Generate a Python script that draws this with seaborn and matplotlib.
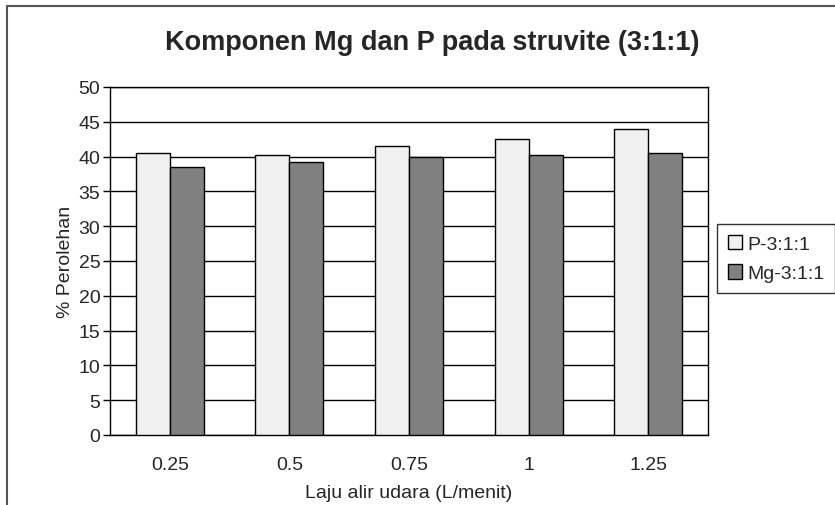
import matplotlib
matplotlib.use("Agg")
import matplotlib.pyplot as plt
import seaborn as sns
import pandas as pd
from matplotlib.patches import Rectangle

categories = ["0.25", "0.5", "0.75", "1", "1.25"]
p_values = [40.5, 40.2, 41.5, 42.5, 44.0]
mg_values = [38.5, 39.2, 40.0, 40.2, 40.5]
series_names = ["P-3:1:1", "Mg-3:1:1"]

df = pd.DataFrame({
    "Laju": categories * 2,
    "Nilai": p_values + mg_values,
    "Seri": [series_names[0]] * 5 + [series_names[1]] * 5,
})

sns.set_theme(style="white")
plt.rcParams['font.family'] = ['Liberation Sans', 'DejaVu Sans']

fig = plt.figure(figsize=(8.35, 5.06), dpi=100)
ax = fig.add_axes([110/835, (506-436)/506, (708-110)/835, (436-88)/506])

sns.barplot(data=df, x="Laju", y="Nilai", hue="Seri", order=categories,
            hue_order=series_names, palette=["#f0f0f0", "#808080"],
            edgecolor="black", linewidth=1.0, width=0.57, ax=ax,
            saturation=1, zorder=3)

ax.set_ylim(0, 50)
ax.set_yticks(range(0, 51, 5))
ax.yaxis.grid(True, color="black", linewidth=1.0, zorder=0)
ax.set_axisbelow(True)
for s in ax.spines.values():
    s.set_visible(True)
    s.set_color("black")
    s.set_linewidth(1.0)
ax.tick_params(axis="y", which="both", left=True, length=5, width=1, color="black",
               labelsize=14, pad=2)
ax.tick_params(axis="x", bottom=False, labelsize=14, pad=9)
ax.set_xlabel("Laju alir udara (L/menit)", fontsize=14, labelpad=8)
ax.set_ylabel("% Perolehan", fontsize=14, labelpad=3)

fig.suptitle("Komponen Mg dan P pada struvite (3:1:1)", fontsize=19.5,
             fontweight="bold", x=432/835, y=1-43/506, va="center")

leg = ax.legend(loc="center left", bbox_to_anchor=(1.015, 0.507), frameon=True,
                fontsize=14, handlelength=0.75, handleheight=0.75,
                handletextpad=0.25, borderpad=0.55, labelspacing=0.6,
                fancybox=False, borderaxespad=0)
leg.get_frame().set_edgecolor("black")
leg.get_frame().set_linewidth(1.0)

fig.add_artist(Rectangle((7/835, -0.1), 1.2, 1 - 7/506 + 0.1,
                         transform=fig.transFigure, fill=False,
                         edgecolor="#555555", linewidth=1.5))

fig.savefig("out.png", dpi=100)
